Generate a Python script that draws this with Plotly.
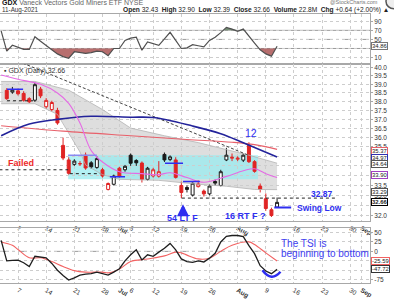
import numpy as np
import pandas as pd
import plotly.graph_objects as go

FONT = 'Liberation Sans, Arial, sans-serif'
W, H = 394, 300
PW = 370  # plot-area width in px (right margin holds the value axis)
BLUE = '#2e2ef0'

# ---------------- trading calendar ----------------
holidays = ['2021-07-05', '2021-09-06']
trading_days = [d.strftime('%Y-%m-%d') for d in pd.bdate_range('2021-06-01', '2021-09-10')
                if d.strftime('%Y-%m-%d') not in holidays]
origin = trading_days.index('2021-06-07')
pos = {d: i - origin for i, d in enumerate(trading_days)}


def span(a, b):
    return trading_days[trading_days.index(a): trading_days.index(b) + 1]


def X(ds):
    return [pos[d] for d in ds]


# ---------------- data ----------------
candle_days = span('2021-06-03', '2021-08-11')
opens = [38.65, 38.55, 38.62, 38.47, 38.17, 38.08, 38.72, 37.71, 37.55, 37.50,
         35.58, 34.81, 34.58, 34.60, 35.06, 34.66, 34.42, 34.30, 33.30, 33.56,
         34.38, 34.30, 35.06, 34.78, 34.65, 33.81, 33.98, 33.97, 35.10, 34.83,
         34.81, 33.50, 33.40, 33.02, 33.44, 33.22, 33.08, 33.70, 33.50, 34.81,
         34.90, 34.85, 34.80, 35.60, 34.72, 33.47, 32.84, 32.30, 32.43]
highs = [38.78, 38.85, 38.75, 38.60, 38.25, 39.10, 38.85, 38.20, 38.05, 37.65,
         36.00, 34.95, 34.85, 34.75, 35.20, 34.75, 35.00, 34.40, 33.65, 34.05,
         34.45, 34.55, 35.15, 34.85, 34.73, 34.45, 34.40, 34.75, 35.20, 35.05,
         34.95, 33.70, 33.50, 33.65, 33.75, 33.30, 33.55, 33.80, 34.30, 35.45,
         35.15, 35.00, 35.15, 35.75, 34.80, 33.60, 33.10, 32.40, 32.90]
lows = [38.10, 38.45, 38.35, 38.00, 37.92, 37.98, 38.20, 37.60, 37.45, 36.70,
        34.80, 34.05, 34.50, 34.50, 34.30, 34.35, 34.35, 33.90, 33.25, 33.50,
        33.90, 34.20, 34.50, 34.50, 33.65, 33.75, 33.90, 33.90, 34.70, 34.75,
        33.85, 32.87, 33.15, 32.95, 33.40, 32.95, 33.00, 33.50, 33.45, 34.75,
        34.75, 34.75, 34.70, 34.65, 34.15, 33.15, 32.25, 31.95, 32.39]
closes = [38.17, 38.66, 38.45, 38.08, 37.99, 38.98, 38.33, 38.07, 37.95, 36.80,
          34.91, 34.12, 34.75, 34.62, 34.39, 34.45, 34.88, 33.98, 33.60, 33.98,
          33.95, 34.48, 34.64, 34.66, 33.81, 34.38, 34.30, 34.20, 34.81, 34.97,
          33.91, 33.15, 33.30, 33.61, 33.58, 33.08, 33.47, 33.62, 34.20, 35.06,
          34.95, 34.90, 35.06, 34.72, 34.22, 33.30, 32.36, 32.02, 32.66]
volume_last = '22.8M'

ind_days = span('2021-06-02', '2021-08-11')
rsi_vals = [69, 24, 37, 33, 28, 28, 56, 46, 37, 26, 18, 12, 8.5,
            22.8, 21, 19, 21, 24, 22.8, 14.2, 30, 30, 47.7, 52.9, 55, 26.3, 44.3,
            40, 37, 51.4, 65.7, 47.7, 30, 31.4, 38.5, 36, 33.5, 47.7, 55, 65,
            76.5, 72.8, 67.9, 72.8, 58.5, 42, 27, 18, 13, 34.86]
tsi_vals = [29, -25, -24, -23, -30, -40, -13, -15, -17, -32, -50, -64, -76,
            -70, -63, -60, -59, -55, -58, -63, -55, -46, -25, -9, 4, -23, -9,
            -13, -2, 8, 21, 4, -20, -27, -29, -25, -28, -18, -5, 25, 40, 42,
            42, 39, 15, -6, -38, -52, -59, -47.72]

sig_dates = ['2021-06-02', '2021-06-04', '2021-06-07', '2021-06-09', '2021-06-11',
             '2021-06-15', '2021-06-17', '2021-06-21', '2021-06-23', '2021-06-28',
             '2021-06-29', '2021-07-01', '2021-07-06', '2021-07-09', '2021-07-14',
             '2021-07-16', '2021-07-19', '2021-07-20', '2021-07-22', '2021-07-26',
             '2021-07-28', '2021-07-30', '2021-08-04', '2021-08-05', '2021-08-09',
             '2021-08-11']
sig_vals = [25, 16, 5, -17, -17, -27, -40, -51, -55, -55, -57, -47, -27, -20,
            -12, -2, -4, -10, -20, -18, 0, 16, 25, 18, -4, -25.59]

ma50_dates = ['2021-06-02', '2021-06-09', '2021-06-16', '2021-06-24', '2021-07-06',
              '2021-07-12', '2021-07-21', '2021-07-28', '2021-08-03', '2021-08-11']
ma50_vals = [36.10, 36.74, 37.00, 37.17, 37.12, 37.10, 36.63, 36.21, 35.72, 34.97]

ma200_dates = ['2021-06-02', '2021-06-17', '2021-07-06', '2021-07-20', '2021-07-30',
               '2021-08-05', '2021-08-11']
ma200_vals = [36.65, 36.35, 36.10, 35.90, 35.75, 35.62, 35.37]

ema_dates = ['2021-06-02', '2021-06-07', '2021-06-11', '2021-06-16', '2021-06-18',
             '2021-06-22', '2021-06-24', '2021-06-28', '2021-07-01', '2021-07-08',
             '2021-07-13', '2021-07-15', '2021-07-20', '2021-07-23', '2021-07-29',
             '2021-08-03', '2021-08-05', '2021-08-09', '2021-08-11']
ema_vals = [39.55, 39.30, 39.00, 38.50, 37.90, 36.80, 35.30, 34.70, 34.20, 34.10,
            34.05, 34.15, 33.90, 33.66, 33.96, 34.25, 34.35, 34.10, 33.90]

bb_up_dates = ['2021-06-02', '2021-06-10', '2021-06-18', '2021-06-28', '2021-07-06',
               '2021-07-14', '2021-07-22', '2021-08-04', '2021-08-11']
bb_up_vals = [39.17, 39.17, 38.66, 37.55, 36.52, 36.10, 35.73, 35.06, 34.64]
bb_lo_dates = ['2021-06-02', '2021-06-10', '2021-06-16', '2021-06-18', '2021-06-22',
               '2021-06-23', '2021-06-28', '2021-07-01', '2021-07-13', '2021-07-22',
               '2021-07-29', '2021-08-05', '2021-08-11']
bb_lo_vals = [37.88, 37.88, 37.28, 36.26, 35.23, 34.55, 34.05, 33.81, 33.76, 33.56,
              33.46, 33.30, 33.29]

trend_dates = ['2021-06-07', '2021-08-04']
trend_vals = [40.38, 35.05]

box_start, box_end = '2021-06-18', '2021-08-05'
box_hi, box_lo = 35.06, 33.81

tick_dates = ['2021-06-07', '2021-06-14', '2021-06-21', '2021-06-28', '2021-07-01',
              '2021-07-06', '2021-07-12', '2021-07-19', '2021-07-26', '2021-08-02',
              '2021-08-09', '2021-08-16', '2021-08-23', '2021-08-30', '2021-09-01']
tick_labels = ['7', '14', '21', '28', '<b>Jul</b>', '6', '12', '19', '26', '<b>Aug</b>',
               '9', '16', '23', '30', '<b>Sep</b>']
price_ticks = [32.0, 32.5, 33.0, 33.5, 34.0, 34.5, 35.0, 35.5, 36.0, 36.5, 37.0,
               37.5, 38.0, 38.5, 39.0, 39.5, 40.0]
price_hidden = [32.5, 34.0, 34.5, 35.0]

# ---------------- figure ----------------
fig = go.Figure()


def P(x, y):
    return x / PW, 1 - y / H


# Bollinger-style gray band (background shape)
pts = list(zip(X(bb_up_dates), bb_up_vals)) + list(zip(X(bb_lo_dates), bb_lo_vals))[::-1]
band_path = 'M ' + ' L '.join(f'{x},{v}' for x, v in pts) + ' Z'
fig.add_shape(type='path', path=band_path, xref='x2', yref='y2', fillcolor='#dedede',
              line=dict(width=0), layer='below')
# cyan consolidation box
fig.add_shape(type='rect', xref='x2', yref='y2', x0=pos[box_start] - 0.1, x1=pos[box_end] + 0.6,
              y0=box_lo, y1=box_hi, fillcolor='rgba(150,236,240,0.72)', line=dict(width=0),
              layer='below')

# band edges
for ds, vs in [(bb_up_dates, bb_up_vals), (bb_lo_dates, bb_lo_vals)]:
    fig.add_trace(go.Scatter(x=X(ds), y=vs, mode='lines', xaxis='x2', yaxis='y2',
                             line=dict(color='#b4b4b4', width=0.8), hoverinfo='skip'))

# candles: red if close < previous close, filled if close < open
prev = [opens[0]] + closes[:-1]
groups = {}
for i, d in enumerate(candle_days):
    red = closes[i] < prev[i]
    filled = closes[i] < opens[i]
    groups.setdefault((red, filled), []).append(i)
for (red, filled), ids in groups.items():
    col = '#e02424' if red else '#1a1a1a'
    fill = col if filled else 'white'
    style = dict(line=dict(color=col, width=1), fillcolor=fill)
    fig.add_trace(go.Candlestick(
        x=[pos[candle_days[i]] for i in ids], open=[opens[i] for i in ids],
        high=[highs[i] for i in ids], low=[lows[i] for i in ids],
        close=[closes[i] for i in ids], xaxis='x2', yaxis='y2',
        increasing=style, decreasing=style, whiskerwidth=0, hoverinfo='skip'))

# overlays
fig.add_trace(go.Scatter(x=X(trend_dates), y=trend_vals, mode='lines', xaxis='x2', yaxis='y2',
                         line=dict(color='#444', width=1, dash='3px,2px')))
fig.add_trace(go.Scatter(x=X(ma200_dates), y=ma200_vals, mode='lines', xaxis='x2', yaxis='y2',
                         line=dict(color='#e8606a', width=1.1, shape='spline')))
fig.add_trace(go.Scatter(x=X(ma50_dates), y=ma50_vals, mode='lines', xaxis='x2', yaxis='y2',
                         line=dict(color='#23239a', width=1.6, shape='spline')))
fig.add_trace(go.Scatter(x=X(ema_dates), y=ema_vals, mode='lines', xaxis='x2', yaxis='y2',
                         line=dict(color='#e56ae5', width=1.1, shape='spline')))

# drawn level lines
segs = [
    (-1.95, 0.9, 38.72, BLUE, 'solid', 1.5),
    (-1.95, 2.66, 38.05, '#222', 'dot', 1),
    (-3.3, 8.9, 34.30, '#222', 'dot', 1),
    (8.9, 14.0, 35.06, '#8a8af0', 'solid', 1.5),
    (9.2, 14.6, 34.10, '#222', 'dot', 1),
    (16.3, 19.0, 33.94, BLUE, 'solid', 1.5),
    (26.1, 29.3, 34.64, BLUE, 'solid', 1.5),
    (29.3, 32.3, 33.70, BLUE, 'solid', 1.5),
    (29.1, 56.7, 32.87, '#222', 'dot', 1),
    (45.5, 48.5, 32.41, BLUE, 'solid', 2),
]
for x0, x1, v, c, dsh, w in segs:
    fig.add_shape(type='line', xref='x2', yref='y2', x0=x0, x1=x1, y0=v, y1=v,
                  line=dict(color=c, width=w, dash=dsh), layer='above')


# ---------------- RSI panel ----------------
def clip_fill(xs, ys, level, above):
    ox, oy = [], []
    for i in range(len(xs)):
        if i > 0:
            y0, y1 = ys[i - 1], ys[i]
            if (y0 - level) * (y1 - level) < 0:
                t = (level - y0) / (y1 - y0)
                ox.append(xs[i - 1] + t * (xs[i] - xs[i - 1]))
                oy.append(level)
        ox.append(xs[i])
        oy.append(max(ys[i], level) if above else min(ys[i], level))
    return ox, oy


rx = X(ind_days)
for level, above, fc in [(70, True, 'rgba(95,125,95,0.85)'), (30, False, 'rgba(170,85,85,0.85)')]:
    ox, oy = clip_fill(rx, rsi_vals, level, above)
    fig.add_trace(go.Scatter(x=[ox[0], ox[-1]], y=[level, level], mode='lines',
                             line=dict(width=0), xaxis='x', yaxis='y', hoverinfo='skip'))
    fig.add_trace(go.Scatter(x=ox, y=oy, mode='lines', line=dict(width=0), fill='tonexty',
                             fillcolor=fc, xaxis='x', yaxis='y', hoverinfo='skip'))
for lv, dsh in [(70, 'solid'), (50, 'dashdot'), (30, 'solid')]:
    fig.add_shape(type='line', xref='x domain', yref='y', x0=0, x1=1, y0=lv, y1=lv,
                  line=dict(color='#9a9a9a', width=1, dash=dsh), layer='below')
fig.add_trace(go.Scatter(x=rx, y=rsi_vals, mode='lines', xaxis='x', yaxis='y',
                         line=dict(color='#505050', width=1.2)))

# ---------------- TSI panel ----------------
fig.add_shape(type='line', xref='x3 domain', yref='y3', x0=0, x1=1, y0=0, y1=0,
              line=dict(color='#9a9a9a', width=1, dash='dashdot'), layer='below')
fig.add_trace(go.Scatter(x=X(sig_dates), y=sig_vals, mode='lines', xaxis='x3', yaxis='y3',
                         line=dict(color='#f26262', width=1.1, shape='spline')))
fig.add_trace(go.Scatter(x=rx, y=tsi_vals, mode='lines', xaxis='x3', yaxis='y3',
                         line=dict(color='#1e1e1e', width=1.3)))
fig.add_shape(type='path', xref='x3', yref='y3', path='M 43.4,-50 Q 45.0,-82 46.6,-54',
              line=dict(color=BLUE, width=2.5))

# ---------------- axes ----------------
xcommon = dict(range=[-3.2, 62.5], tickmode='array', tickvals=X(tick_dates), ticktext=tick_labels,
               showgrid=True, gridcolor='#cdcdcd', griddash='dot', gridwidth=1, zeroline=False,
               showline=True, linecolor='#a8a8a8', linewidth=1, mirror=True, ticks='',
               tickfont=dict(size=6.5, color='#333', family=FONT),
               rangeslider=dict(visible=False), fixedrange=True)
ycommon = dict(side='right', showgrid=True, gridcolor='#cdcdcd', griddash='dot', zeroline=False,
               showline=True, linecolor='#a8a8a8', ticks='outside', ticklen=2,
               tickcolor='#a8a8a8', tickfont=dict(size=6.5, color='#333', family=FONT),
               fixedrange=True)

fig.update_layout(
    width=W, height=H, margin=dict(l=0, r=W - PW, t=0, b=0),
    paper_bgcolor='white', plot_bgcolor='white', showlegend=False, hovermode=False,
    boxgap=0.25,
    font=dict(family=FONT, size=7, color='#333'),
    xaxis=dict(**xcommon, anchor='y', showticklabels=False),
    xaxis2=dict(**xcommon, anchor='y2', showticklabels=True),
    xaxis3=dict(**xcommon, anchor='y3', showticklabels=True),
    yaxis=dict(**ycommon, anchor='x', domain=[1 - 66 / H, 1 - 14 / H], range=[-4.3, 107],
               tickmode='array', tickvals=[10, 30, 50, 70, 90],
               ticktext=['10', '', '50', '70', '90']),
    yaxis2=dict(**ycommon, anchor='x2', domain=[1 - 228 / H, 1 - 66 / H], type='log',
                range=[np.log10(31.75), np.log10(40.21)], tickmode='array',
                tickvals=price_ticks,
                ticktext=['' if t in price_hidden else f'{t:.1f}' for t in price_ticks]),
    yaxis3=dict(**ycommon, anchor='x3', domain=[1 - 292 / H, 1 - 235 / H], range=[-84.4, 62],
                tickmode='array', tickvals=[-75, -50, -25, 0, 25, 50],
                ticktext=['-75', '', '', '0', '25', '50']),
)


# ---------------- value boxes on the right ----------------
def vbox(v, yref, col, bold=False, log=False, shift=0):
    s = f'{v:.2f}'
    fig.add_annotation(xref='paper', x=1, xanchor='left', xshift=1, yref=yref,
                       y=np.log10(v) if log else v, yshift=shift,
                       text=f'<b>{s}</b>' if bold else s,
                       showarrow=False, font=dict(size=5.9, color='#222', family=FONT),
                       bordercolor=col, borderwidth=1, borderpad=0, bgcolor='white')


vbox(ma200_vals[-1], 'y2', '#e8606a', log=True, shift=-2)
vbox(ma50_vals[-1], 'y2', '#3030b0', log=True, shift=-1.5)
vbox(bb_up_vals[-1], 'y2', '#555', log=True, shift=-1)
vbox(ema_vals[-1], 'y2', '#a040c0', log=True, shift=2.5)
vbox(bb_lo_vals[-1], 'y2', '#555', log=True, shift=-2)
vbox(closes[-1], 'y2', '#000', bold=True, log=True, shift=0)
vbox(rsi_vals[-1], 'y', '#777')
vbox(sig_vals[-1], 'y3', '#f26262')
vbox(tsi_vals[-1], 'y3', '#333')


# ---------------- texts ----------------
def txt(x, y, s, size=7, color='#222', xanchor='center'):
    px_, py_ = P(x, y)
    fig.add_annotation(xref='paper', yref='paper', x=px_, y=py_, text=s, showarrow=False,
                       xanchor=xanchor, yanchor='middle',
                       font=dict(size=size, color=color, family=FONT))


chg = closes[-1] - closes[-2]
pct = chg / closes[-2] * 100
txt(0, 2.5, '<b>GDX</b> <span style="color:#666">Vaneck Vectors Gold Miners ETF NYSE</span>',
    7, '#111', 'left')
txt(0, 10, '11-Aug-2021', 6.3, '#333', 'left')
txt(391, 10, f'<b>Open</b> {opens[-1]:.2f}  <b>High</b> {highs[-1]:.2f}  <b>Low</b> {lows[-1]:.2f}  '
             f'<b>Close</b> {closes[-1]:.2f}  <b>Volume</b> {volume_last}  '
             f'<b>Chg</b> +{chg:.2f} (+{pct:.2f}%) ▲', 6.6, '#222', 'right')
txt(380, 2.5, '@StockCharts.com', 5.5, '#777', 'right')
txt(2, 73, f'▪ GDX (Daily) {closes[-1]:.2f}', 7, '#333', 'left')

txt(251, 137, '12', 10.5, BLUE)
txt(21, 168, '<b>Failed</b>', 9, '#ee2a2a')
txt(182, 225, '<b>54 LT F</b>', 9, BLUE)
txt(245, 222.5, '<b>16 RT F ?</b>', 9, BLUE)
txt(322, 200, '<b>32.87</b>', 8.5, BLUE)
txt(319, 214.5, '<b>Swing Low</b>', 8.5, BLUE)
txt(279, 251, 'The TSI is', 10, '#4040f0', 'left')
txt(279, 261.5, 'beginning to bottom', 10, '#4040f0', 'left')

ax_, ay_ = P(183, 210.5)
fig.add_annotation(xref='paper', yref='paper', x=ax_, y=ay_, text='', showarrow=True,
                   ax=0, ay=9, arrowhead=2, arrowsize=0.8, arrowwidth=3, arrowcolor=BLUE)

# logo ring (top-right corner)
fig.add_shape(type='circle', xref='paper', yref='paper', x0=386 / PW, x1=402 / PW,
              y0=1 - 9 / H, y1=1 + 6 / H, line=dict(color='#555', width=1.5),
              fillcolor='#eeeeee')

fig.write_html('out.html', config={'displayModeBar': False})
